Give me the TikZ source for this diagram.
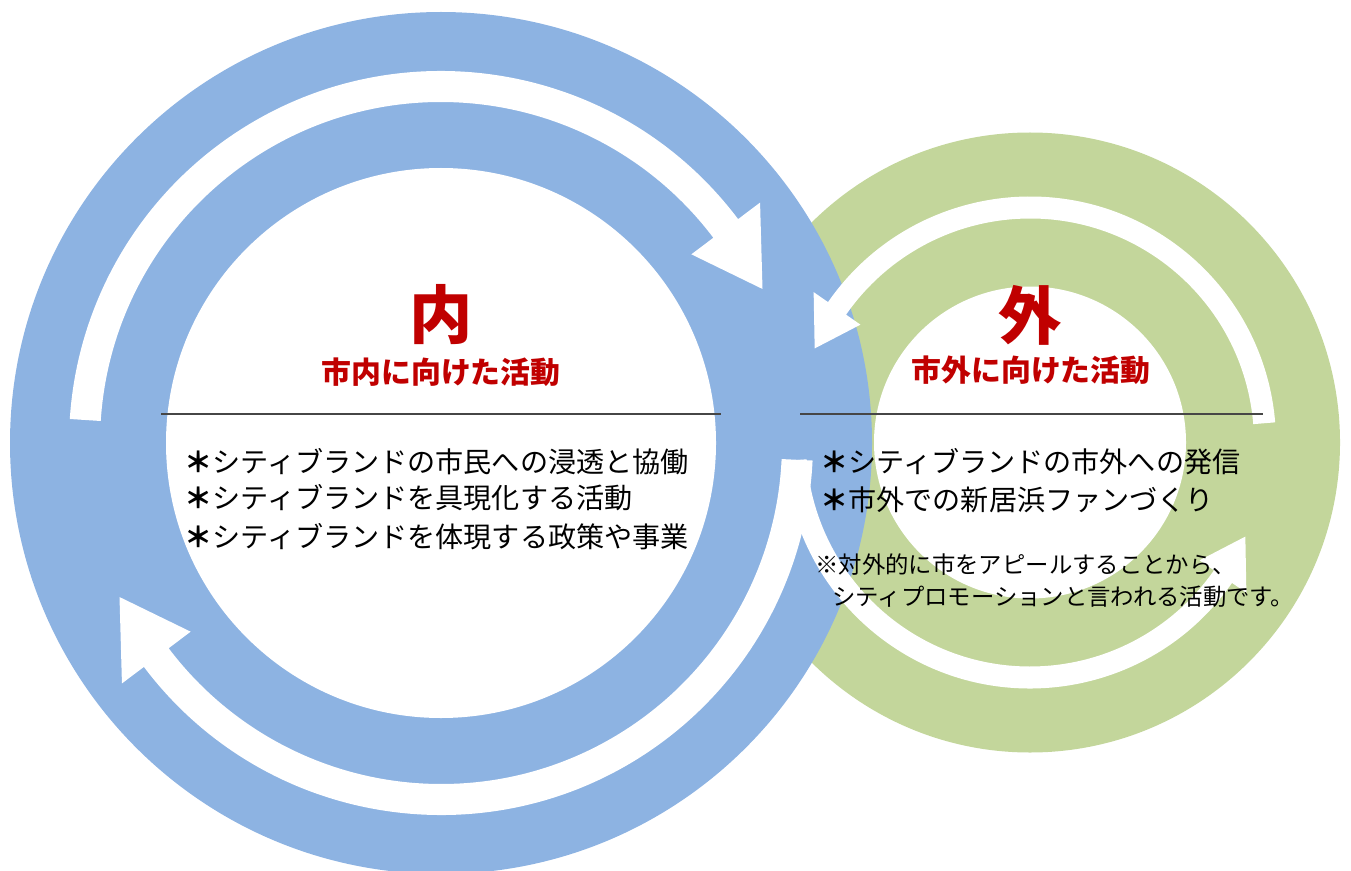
\documentclass[tikz,border=0pt]{standalone}
\usepackage{fontspec}
\newfontfamily\jp{Noto Sans CJK JP}
\usetikzlibrary{positioning}

\definecolor{ringblue}{RGB}{141,179,226}
\definecolor{ringgreen}{RGB}{195,214,155}
\definecolor{titlered}{RGB}{192,0,0}
\definecolor{rulegray}{RGB}{70,70,70}

\newcommand{\itemstar}{{\bfseries ＊}}

\tikzset{
  bigchar/.style={text=titlered, inner sep=0pt, font=\jp\bfseries\fontsize{36}{36}\selectfont},
  subtitle/.style={text=titlered, inner sep=0pt, font=\jp\bfseries\fontsize{17}{17}\selectfont},
  item/.style={anchor=west, inner sep=0pt, font=\jp\fontsize{16}{16}\selectfont},
  note/.style={anchor=west, inner sep=0pt, font=\jp\fontsize{13.3}{13.3}\selectfont},
  divider/.style={rulegray, line width=0.8pt},
}

\begin{document}
\begin{tikzpicture}[x=0.02cm, y=0.02cm]
  \useasboundingbox (0,0) rectangle (1351,870);
  % rings: green first, blue lies on top of it
  \fill[ringgreen] (1030,427.5) circle (310);
  \fill[white] (1030,427.5) circle (156);
  \fill[ringblue] (441,427) circle (431);
  \fill[white] (441,427) circle (275);
  % white curved arrows: centre/inner r/outer r/tail/head base/tip/half head width
  \foreach \cx/\cy/\ri/\ro/\ta/\ba/\tipa/\hw in {
      441/427/341/372/176.3/37/25.6/43,
      441/427/341/372/357.3/217/205.6/43,
      1030/427.5/224/246/4.7/145.2/156.4/28.5,
      1030/427.5/224/246/184.3/325.2/336.4/28.5} {
    \pgfmathsetmacro\rmid{(\ri+\ro)/2}
    \pgfmathsetmacro\hin{\rmid-\hw}
    \pgfmathsetmacro\hout{\rmid+\hw}
    \fill[white, shift={(\cx,\cy)}] (\ta:\ri) arc[start angle=\ta, end angle=\ba, radius=\ri]
      -- (\ba:\hin) -- (\tipa:\rmid) -- (\ba:\hout) -- (\ba:\ro)
      arc[start angle=\ba, end angle=\ta, radius=\ro] -- cycle;
  }
  % dividers
  \draw[divider] (161,456) -- (721,456);
  \draw[divider] (800,456) -- (1263,456);
  % inside the city
  \node[bigchar] (naiChar) at (441,555) {内};
  \node[subtitle] (naiSub) at (441,498) {市内に向けた活動};
  \node[item] (naiItem1) at (184,408) {\itemstar シティブランドの市民への浸透と協働};
  \node[item] (naiItem2) at (184,372) {\itemstar シティブランドを具現化する活動};
  \node[item] (naiItem3) at (184,333) {\itemstar シティブランドを体現する政策や事業};
  % outside the city
  \node[bigchar] (gaiChar) at (1030,555) {外};
  \node[subtitle] (gaiSub) at (1031,500) {市外に向けた活動};
  \node[item] (gaiItem1) at (820,408) {\itemstar シティブランドの市外への発信};
  \node[item] (gaiItem2) at (820,370) {\itemstar 市外での新居浜ファンづくり};
  \node[note] (gaiNote1) at (815,305) {※対外的に市をアピールすることから、};
  \node[note] (gaiNote2) at (832,273) {シティプロモーションと言われる活動です。};
\end{tikzpicture}
\end{document}
